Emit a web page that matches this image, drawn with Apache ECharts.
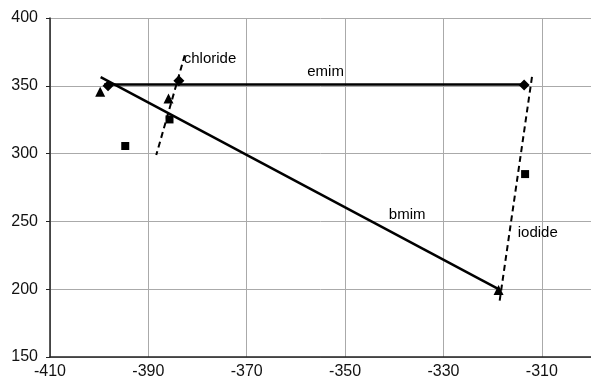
<!DOCTYPE html>
<html>
<head>
<meta charset="utf-8">
<script src="https://cdn.jsdelivr.net/npm/echarts@6/dist/echarts.min.js"></script>
<style>
html,body{margin:0;padding:0;background:#fff;}
#c{width:591px;height:383px;}
</style>
</head>
<body>
<div id="c"></div>
<script>
// Data
var xTicks = [-410, -390, -370, -350, -330, -310];
var yTicks = [150, 200, 250, 300, 350, 400];

var emimPoints = [[-398.2, 350.0], [-383.8, 353.7], [-313.6, 350.5]];       // diamonds
var bmimPoints = [[-399.8, 345.6], [-385.9, 340.7], [-318.8, 199.4]];       // triangles
var otherPoints = [[-394.7, 305.6], [-385.7, 325.2], [-313.4, 284.9]];      // squares

var emimLine = [[-399.0, 351.0], [-313.6, 351.0]];
var bmimLine = [[-399.7, 356.4], [-318.5, 199.5]];
var chlorideLine = [[-382.6, 372.6], [-388.4, 298.9]];
var iodideLine = [[-312.0, 356.6], [-318.6, 190.8]];

var annotations = [
  {name: 'chloride', value: [-382.8, 369.7]},
  {name: 'emim', value: [-357.7, 360.3]},
  {name: 'bmim', value: [-341.1, 254.7]},
  {name: 'iodide', value: [-314.9, 241.2]}
];

var FONT = '"Liberation Sans", Arial, sans-serif';
var INK = '#000';

var chart = echarts.init(document.getElementById('c'), null, {renderer: 'canvas'});
chart.setOption({
  animation: false,
  backgroundColor: '#fff',
  grid: {left: 50, right: -5, top: 18, bottom: 26, containLabel: false},
  xAxis: {
    type: 'value', min: xTicks[0], max: -300, interval: 20,
    axisLine: {show: true, onZero: false, lineStyle: {color: '#222', width: 1.5}},
    axisTick: {show: false},
    splitLine: {show: true, lineStyle: {color: '#aaa', width: 1}},
    axisLabel: {
      color: '#111', fontFamily: FONT, fontSize: 16, margin: 7, showMaxLabel: false,
      formatter: function (v) { return xTicks.indexOf(v) >= 0 ? String(v) : ''; }
    }
  },
  yAxis: {
    type: 'value', min: yTicks[0], max: yTicks[yTicks.length - 1], interval: 50,
    axisLine: {show: true, onZero: false, lineStyle: {color: '#222', width: 1.5}},
    axisTick: {show: true, length: 4, lineStyle: {color: '#222'}},
    splitLine: {show: true, lineStyle: {color: '#aaa', width: 1}},
    axisLabel: {color: '#111', fontFamily: FONT, fontSize: 16, margin: 12}
  },
  series: [
    {type: 'line', data: emimLine, symbol: 'none', lineStyle: {color: INK, width: 2.5}, z: 3},
    {type: 'line', data: bmimLine, symbol: 'none', lineStyle: {color: INK, width: 2.5}, z: 3},
    {type: 'line', data: chlorideLine, symbol: 'none', lineStyle: {color: INK, width: 2, type: [6, 4]}, z: 3},
    {type: 'line', data: iodideLine, symbol: 'none', lineStyle: {color: INK, width: 2, type: [6, 4]}, z: 3},
    {type: 'scatter', data: emimPoints, symbol: 'diamond', symbolSize: 11, itemStyle: {color: INK, opacity: 1}, z: 4},
    {type: 'scatter', data: bmimPoints, symbol: 'triangle', symbolSize: 10, itemStyle: {color: INK, opacity: 1}, z: 4},
    {type: 'scatter', data: otherPoints, symbol: 'rect', symbolSize: 8, itemStyle: {color: INK, opacity: 1}, z: 4},
    {
      type: 'scatter', data: annotations, symbolSize: 0, z: 5,
      itemStyle: {opacity: 1},
      label: {
        show: true, position: 'right', distance: 0,
        formatter: '{b}', color: '#000', fontFamily: FONT, fontSize: 15
      }
    }
  ]
});
</script>
</body>
</html>
